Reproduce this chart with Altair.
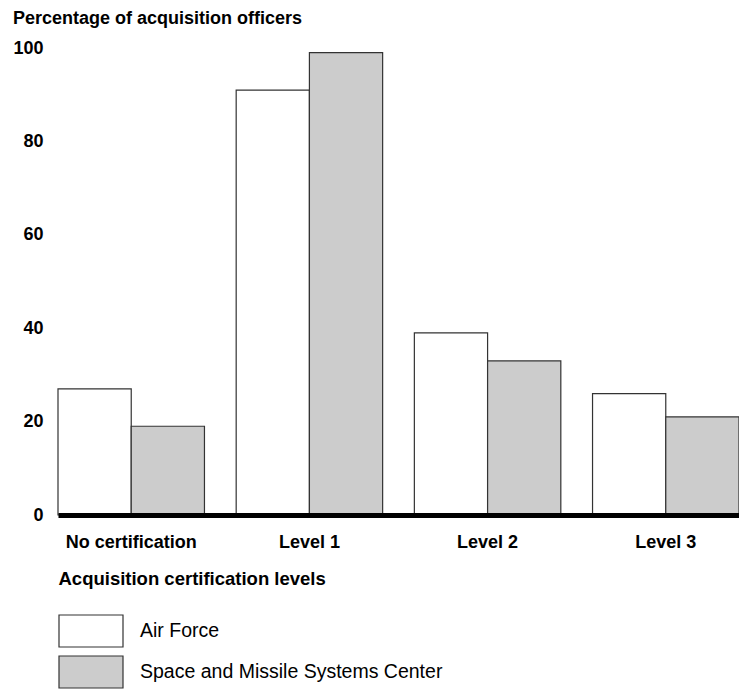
import altair as alt
import pandas as pd

categories = ["No certification", "Level 1", "Level 2", "Level 3"]
series = ["Air Force", "Space and Missile Systems Center"]
air_force = [27, 91, 39, 26]
smc = [19, 99, 33, 21]
fills = ["#ffffff", "#cccccc"]
y_ticks = [0, 20, 40, 60, 80, 100]

rows = []
for c, a, s in zip(categories, air_force, smc):
    rows.append({"level": c, "series": series[0], "value": a})
    rows.append({"level": c, "series": series[1], "value": s})
df = pd.DataFrame(rows)

FONT = "Liberation Sans"

chart = alt.Chart(df).mark_bar(stroke="#333333", strokeWidth=1.2).encode(
    x=alt.X(
        "level:N", sort=categories,
        scale=alt.Scale(paddingInner=0.178, paddingOuter=0),
        axis=alt.Axis(
            title="Acquisition certification levels", titleFont=FONT, titleFontSize=18.5,
            titleFontWeight="bold", titleAnchor="start", titleAlign="left", titlePadding=18,
            titleColor="black",
            labelFont=FONT, labelFontSize=18, labelFontWeight="bold", labelAngle=0,
            labelColor="black", labelPadding=18, ticks=False,
            domainWidth=5, domainColor="black", zindex=1,
        ),
    ),
    xOffset=alt.XOffset("series:N", sort=series,
                        scale=alt.Scale(paddingInner=0, paddingOuter=0)),
    y=alt.Y(
        "value:Q", scale=alt.Scale(domain=[0, 100], nice=False),
        axis=alt.Axis(values=y_ticks, title=None, ticks=False, domain=False, grid=False,
                      labelFont=FONT, labelFontSize=18, labelFontWeight="bold",
                      labelColor="black", labelPadding=15),
    ),
    fill=alt.Fill(
        "series:N", sort=series,
        scale=alt.Scale(domain=series, range=fills),
        legend=alt.Legend(
            orient="none", legendX=16, legendY=566, title=None, direction="vertical",
            symbolType="M-2,-1H2V1H-2Z", symbolSize=1024,
            symbolStrokeColor="#333333", symbolStrokeWidth=1.2,
            labelFont=FONT, labelFontSize=19.5, labelColor="black", labelOffset=32,
            rowPadding=3, labelLimit=0,
        ),
    ),
).properties(
    width=681, height=467,
    title=alt.Title("Percentage of acquisition officers", anchor="start", frame="bounds",
                    font=FONT, fontSize=18, fontWeight="bold", color="black", offset=11),
    padding={"left": 50, "top": 40, "right": 0, "bottom": 175},
    autosize=alt.AutoSizeParams(type="none"),
    background="white",
).configure_view(strokeWidth=0)

chart.save("out.html", embed_options={"renderer": "svg", "actions": False})
